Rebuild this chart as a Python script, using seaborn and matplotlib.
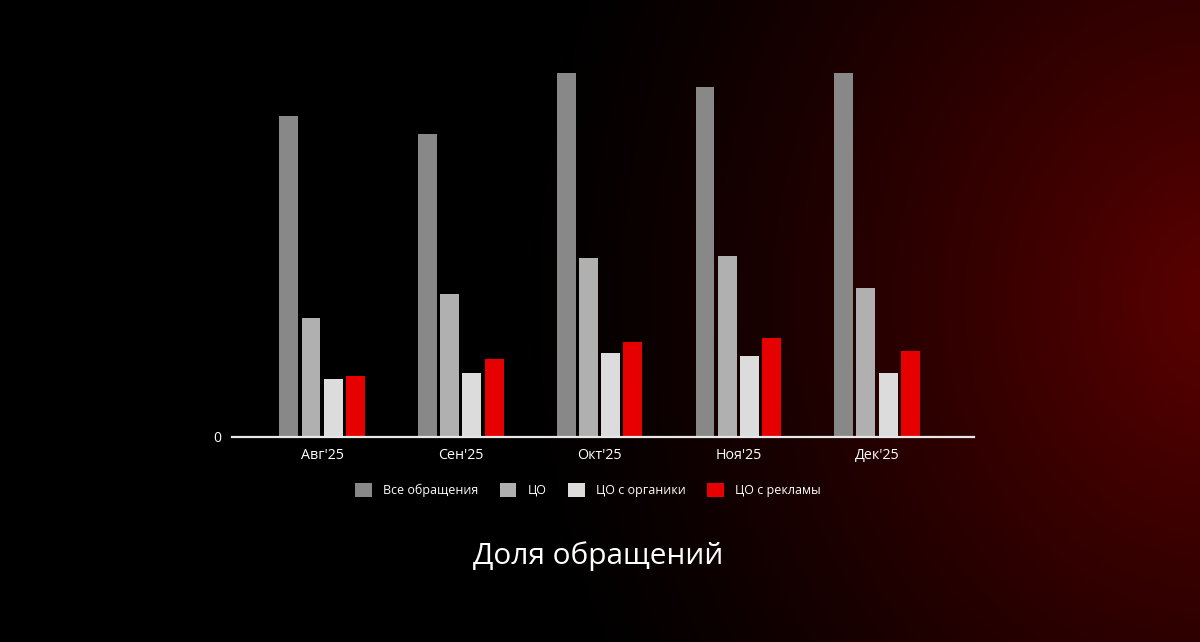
import numpy as np
import pandas as pd
import matplotlib
matplotlib.use("Agg")
import matplotlib.pyplot as plt
import seaborn as sns
from matplotlib.patches import Patch


months = ["Авг'25", "Сен'25", "Окт'25", "Ноя'25", "Дек'25"]
series = ["Все обращения", "ЦО", "ЦО с органики", "ЦО с рекламы"]
all_requests = [321, 303, 364, 350, 364]
target = [119, 143, 179, 181, 149]
target_organic = [58, 64, 84, 81, 64]
target_ads = [61, 78, 95, 99, 86]
colors = ["#888888", "#b0b0b0", "#dcdcdc", "#e60000"]
title = "Доля обращений"

df = pd.DataFrame({
	"month": months * 4,
	"series": [s for s in series for _ in months],
	"value": all_requests + target + target_organic + target_ads,
})

sns.set_theme(style="white")
plt.rcParams["font.family"] = ["Open Sans", "DejaVu Sans"]

W, H = 1200, 642
fig = plt.figure(figsize=(W / 100, H / 100), dpi=100)

# background: black with a red glow on the right
bg = fig.add_axes([0, 0, 1, 1])
yy, xx = np.mgrid[0:H, 0:W]
d = np.sqrt(((xx - 1220) / 720) ** 2 + ((yy - 300) / 820) ** 2)
glow = np.clip(1 - d, 0, 1) ** 1.3
img = np.zeros((H, W, 3))
img[..., 0] = glow * 92 / 255
bg.imshow(img, aspect="auto", extent=[0, W, H, 0])
bg.axis("off")

left, right, base, top = 232, 974, 437, 60
ax = fig.add_axes([left / W, 1 - base / H, (right - left) / W, (base - top) / H])
ax.patch.set_alpha(0)

sns.barplot(data=df, x="month", y="value", hue="series", hue_order=series,
            palette=colors, width=0.64, gap=0.15, saturation=1, legend=False,
            linewidth=0, ax=ax)

ax.set_xlim(-0.649, 4.699)
ax.set_ylim(0, base - top)
ax.set_xlabel("")
ax.set_ylabel("")
ax.set_yticks([0])
ax.set_yticklabels(["0"])
ax.tick_params(axis="y", colors="white", labelsize=10, length=0, pad=8)
ax.tick_params(axis="x", colors="white", labelsize=10.3, length=0, pad=8)
for lab in ax.get_xticklabels():
	lab.set_color("white")
for side in ["top", "right", "left"]:
	ax.spines[side].set_visible(False)
ax.spines["bottom"].set_color("#e8e8e8")
ax.spines["bottom"].set_linewidth(1.6)

handles = [Patch(facecolor=c, edgecolor="none", label=s) for c, s in zip(colors, series)]
leg = fig.legend(handles=handles, loc="center", bbox_to_anchor=(588 / W, 1 - 490 / H),
                 ncol=4, frameon=False, fontsize=9, handlelength=1.3, handleheight=1.3,
                 handletextpad=0.9, columnspacing=1.75)
for t in leg.get_texts():
	t.set_color("white")

fig.text(598 / W, 1 - 556 / H, title, color="white", fontsize=21.5, ha="center", va="center")

fig.savefig("out.png", dpi=100)
